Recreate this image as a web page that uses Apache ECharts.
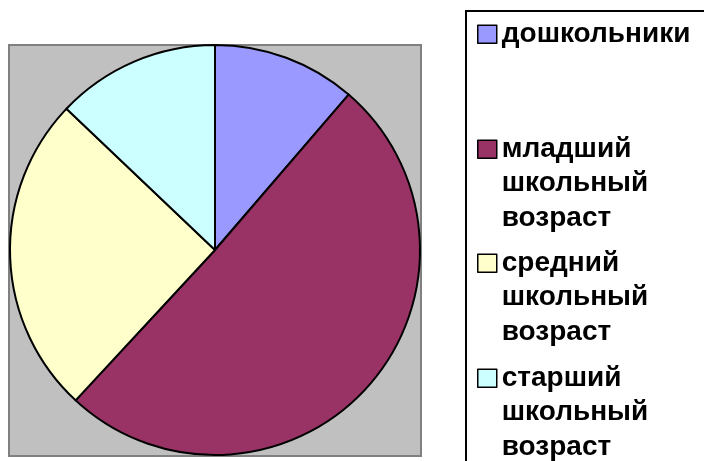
<!DOCTYPE html>
<html>
<head>
<meta charset="utf-8">
<script src="https://cdn.jsdelivr.net/npm/echarts@6/dist/echarts.min.js"></script>
<style>html,body{margin:0;padding:0;background:#fff;}#c{width:704px;height:461px;}</style>
</head>
<body>
<div id="c"></div>
<script>
var categories = ['дошкольники', 'младший\nшкольный\nвозраст', 'средний\nшкольный\nвозраст', 'старший\nшкольный\nвозраст'];
var values = [11.3, 50.6, 25.2, 12.9];
var colors = ['#9999FF', '#993366', '#FFFFCC', '#CCFFFF'];

var chart = echarts.init(document.getElementById('c'), null, {renderer: 'canvas'});

var legendTops = [17, 63, 177, 292];
var legends = categories.map(function (name, i) {
  var multi = name.indexOf('\n') >= 0;
  return {
    data: [name],
    left: 477,
    top: legendTops[i],
    orient: 'vertical',
    padding: 0,
    itemWidth: 19,
    itemHeight: 18,
    itemGap: 0,
    selectedMode: false,
    icon: 'rect',
    formatter: function (n) { return multi ? '\n\n' + n : n; },
    itemStyle: {borderColor: '#000', borderWidth: 1.5},
    textStyle: {
      fontFamily: 'Liberation Sans, Arial, sans-serif',
      fontWeight: 'bold',
      fontSize: 28,
      color: '#000',
      lineHeight: 34.5
    }
  };
});

chart.setOption({
  animation: false,
  color: colors,
  graphic: [
    {type: 'rect', z: -10, shape: {x: 9, y: 45, width: 412, height: 411},
     style: {fill: '#C0C0C0', stroke: '#808080', lineWidth: 2}},
    {type: 'rect', z: -10, shape: {x: 466, y: 11, width: 260, height: 470},
     style: {fill: '#fff', stroke: '#000', lineWidth: 2}}
  ],
  legend: legends,
  series: [{
    type: 'pie',
    center: [215, 250],
    radius: 205,
    startAngle: 90,
    clockwise: true,
    label: {show: false},
    labelLine: {show: false},
    emphasis: {disabled: true},
    itemStyle: {borderColor: '#000', borderWidth: 2},
    data: categories.map(function (n, i) { return {name: n, value: values[i]}; })
  }]
});
</script>
</body>
</html>
